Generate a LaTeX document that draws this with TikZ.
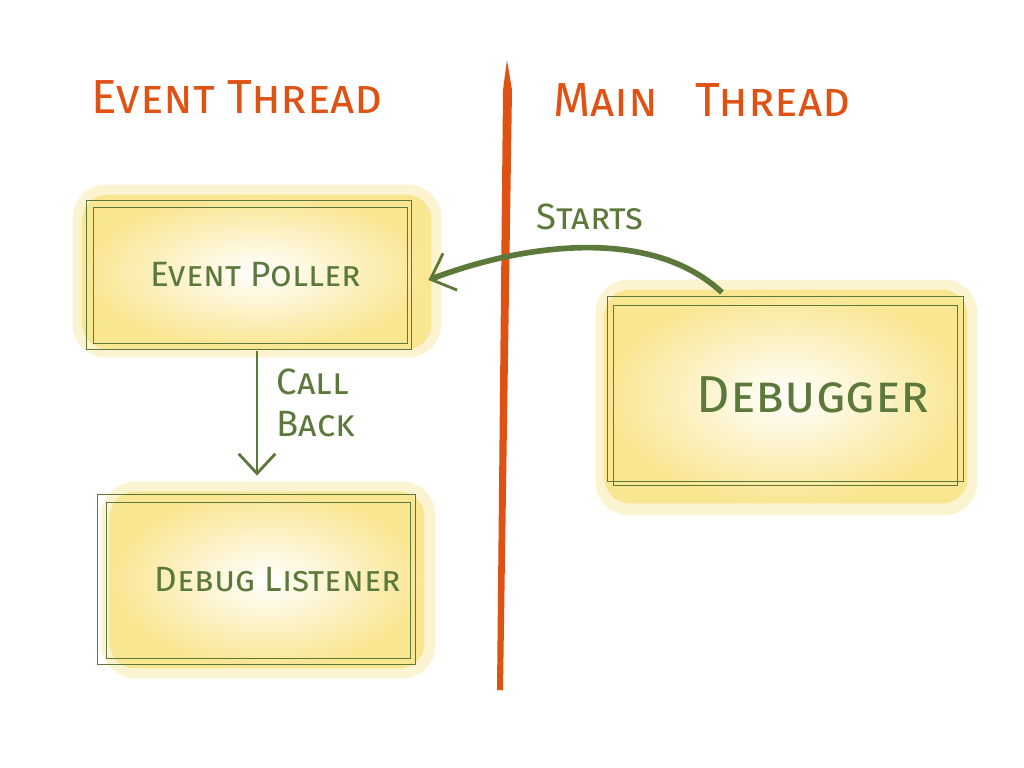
\documentclass[tikz,border=0pt]{standalone}
\usepackage{fontspec}
\setmainfont{Fira Sans}
\usetikzlibrary{arrows.meta,calc,backgrounds}
\definecolor{threadorange}{HTML}{E05214}
\definecolor{pengreen}{HTML}{5C783A}
\definecolor{markeryellow}{HTML}{F5D546}
\tikzset{
    box/.style={draw=pengreen, line width=0.6pt, text=pengreen, font=\fontsize{25}{28}\selectfont\scshape},
    frame/.style={draw=pengreen, line width=0.4pt},
    blob/.style={inner color=white, outer color=markeryellow!60, rounded corners=18pt},
    haze/.style={fill=markeryellow!25, rounded corners=24pt},
    note/.style={text=pengreen, font=\fontsize{26}{30}\selectfont\scshape},
    title/.style={text=threadorange, font=\fontsize{34}{36}\selectfont\scshape},
}
\begin{document}
\begin{tikzpicture}[x=0.025cm, y=-0.025cm]
    \begin{scope}[on background layer]
        \fill[white] (0,0) rectangle (1024,768);
    \end{scope}
    \node[title] (evt) at (237,97) {Event Thread};
    \node[title] (mt) at (702,100) {Main \enspace Thread};
    \fill[threadorange] (507,60) -- (512,90) -- (503,690) -- (497,690) -- (503,90) -- cycle;
    % the three boxes
    \node[box, minimum width=7.85cm, minimum height=3.4cm] (ep) at (250,275) {\hspace*{8pt}Event Poller};
    \node[box, minimum width=8.6cm, minimum height=4.5cm, font=\fontsize{37}{40}\selectfont\scshape] (dbg) at (785,395) {\hspace*{40pt}Debugger};
    \node[box, minimum width=7.6cm, minimum height=3.9cm] (dl) at (258,580) {\hspace*{28pt}Debug Listener};
    \draw[frame] ([shift={(-6,-6)}]ep.north west) rectangle ([shift={(4,6)}]ep.south east);
    \draw[frame] ([shift={(-5,-8)}]dbg.north west) rectangle ([shift={(6,-4)}]dbg.south east);
    \draw[frame] ([shift={(-8,-7)}]dl.north west) rectangle ([shift={(5,6)}]dl.south east);
    \begin{scope}[on background layer]
        \fill[haze] ([shift={(-20,-22)}]ep.north west) rectangle ([shift={(34,14)}]ep.south east);
        \fill[haze] ([shift={(-17,-25)}]dbg.north west) rectangle ([shift={(20,30)}]dbg.south east);
        \fill[haze] ([shift={(-4,-20)}]dl.north west) rectangle ([shift={(25,20)}]dl.south east);
        \shade[blob] ([shift={(-10,-12)}]ep.north west) rectangle ([shift={(24,6)}]ep.south east);
        \shade[blob] ([shift={(-8,-15)}]dbg.north west) rectangle ([shift={(10,18)}]dbg.south east);
        \shade[blob] ([shift={(4,-10)}]dl.north west) rectangle ([shift={(14,10)}]dl.south east);
    \end{scope}
    % connectors
    \draw[pengreen, line width=4pt, -{Straight Barb[length=15pt, width=28pt, line width=2pt]}]
        ($(dbg.north)+(-63,-12)$) .. controls (650,225) and (520,245) .. ($(ep.east)+(21,5)$);
    \node[note] (st) at (590,217) {Starts};
    \draw[pengreen, line width=2pt, -{Straight Barb[length=14pt, width=26pt, line width=2pt]}]
        ($(ep.south)+(7,8)$) -- ($(dl.north)+(-1,-26)$);
    \node[note, align=left, anchor=west] (cb) at (272,403) {Call\\Back};
\end{tikzpicture}
\end{document}
